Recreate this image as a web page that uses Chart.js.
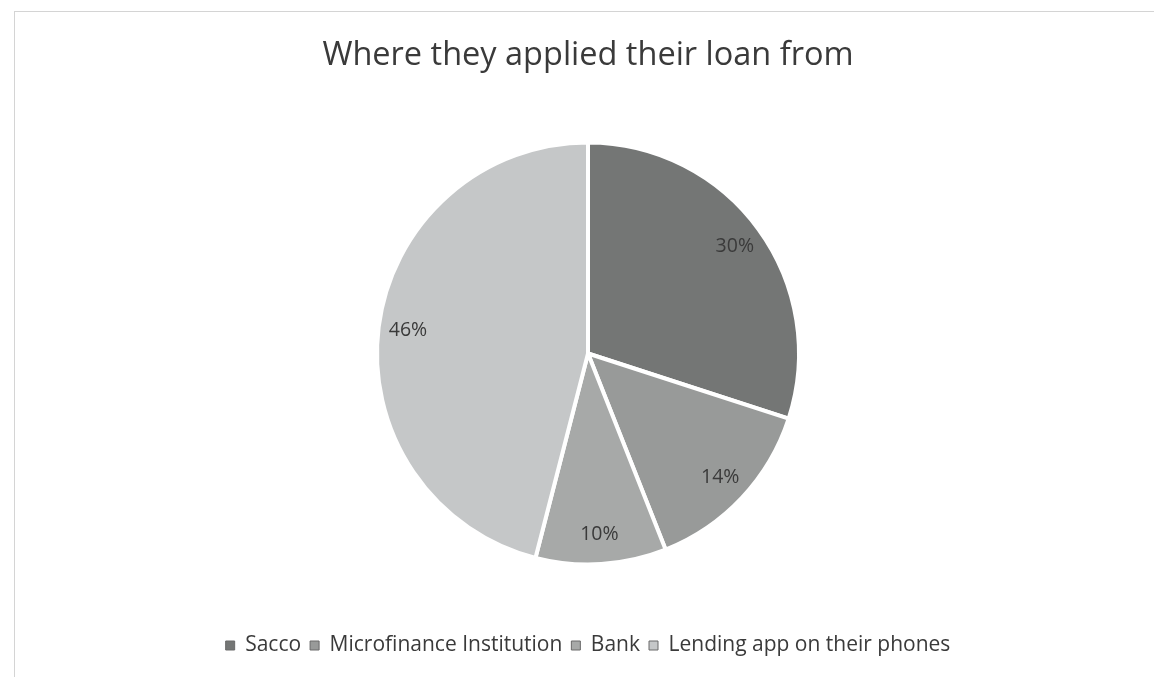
<!DOCTYPE html>
<html>
<head>
<meta charset="utf-8">
<title>Where they applied their loan from</title>
<script src="https://cdn.jsdelivr.net/npm/chart.js@4.4.1/dist/chart.umd.min.js"></script>
<style>
    html, body { margin: 0; padding: 0; background: #fff; }
    #wrap { position: relative; width: 1154px; height: 677px; overflow: hidden; }
    #frame {
        position: absolute; left: 14px; top: 11px; width: 1200px; height: 700px;
        border-left: 1px solid #d4d4d4; border-top: 1px solid #d4d4d4;
        pointer-events: none;
    }
</style>
</head>
<body>
<div id="wrap">
    <canvas id="loanChart" width="1154" height="677"></canvas>
    <div id="frame"></div>
</div>
<script>
// loan sources, share of respondents (%)
const sources = ['Sacco', 'Microfinance Institution', 'Bank', 'Lending app on their phones'];
const shares = [30, 14, 10, 46];
const sliceColors = ['#747675', '#989a99', '#a7a9a8', '#c5c7c8'];

const FONT = "'Open Sans', 'Noto Sans', sans-serif";
const TEXT = '#3a3a3a';

// percentage labels placed along each slice's middle angle
const sliceLabels = {
    id: 'sliceLabels',
    afterDatasetsDraw(chart) {
        const { ctx } = chart;
        const meta = chart.getDatasetMeta(0);
        const total = shares.reduce((a, b) => a + b, 0);
        ctx.save();
        ctx.font = `19.5px ${FONT}`;
        ctx.fillStyle = TEXT;
        ctx.textAlign = 'center';
        ctx.textBaseline = 'middle';
        meta.data.forEach((arc, i) => {
            const mid = (arc.startAngle + arc.endAngle) / 2;
            const r = arc.outerRadius * 0.86;
            const x = arc.x + Math.cos(mid) * r;
            const y = arc.y + Math.sin(mid) * r;
            ctx.fillText(Math.round(shares[i] / total * 100) + '%', x, y);
        });
        ctx.restore();
    }
};

new Chart(document.getElementById('loanChart'), {
    type: 'pie',
    data: {
        labels: sources,
        datasets: [{
            data: shares,
            backgroundColor: sliceColors,
            borderColor: '#ffffff',
            borderWidth: 4,
            radius: 211
        }]
    },
    options: {
        responsive: false,
        animation: false,
        layout: { padding: { left: 22, right: 0, top: 0, bottom: 11 } },
        plugins: {
            title: {
                display: true,
                text: 'Where they applied their loan from',
                color: TEXT,
                font: { family: FONT, size: 32.5, weight: 'normal' },
                padding: { top: 36.5, bottom: 5.5 }
            },
            legend: {
                position: 'bottom',
                labels: {
                    color: TEXT,
                    font: { family: FONT, size: 21 },
                    boxWidth: 9,
                    boxHeight: 9,
                    padding: 9,
                    // solid swatches: don't inherit the white slice border
                    generateLabels(chart) {
                        const items = Chart.overrides.pie.plugins.legend.labels.generateLabels(chart);
                        return items.map(item => ({ ...item, strokeStyle: '#6a6a6a', lineWidth: 1 }));
                    }
                }
            },
            tooltip: { enabled: false }
        }
    },
    plugins: [sliceLabels]
});
</script>
</body>
</html>
